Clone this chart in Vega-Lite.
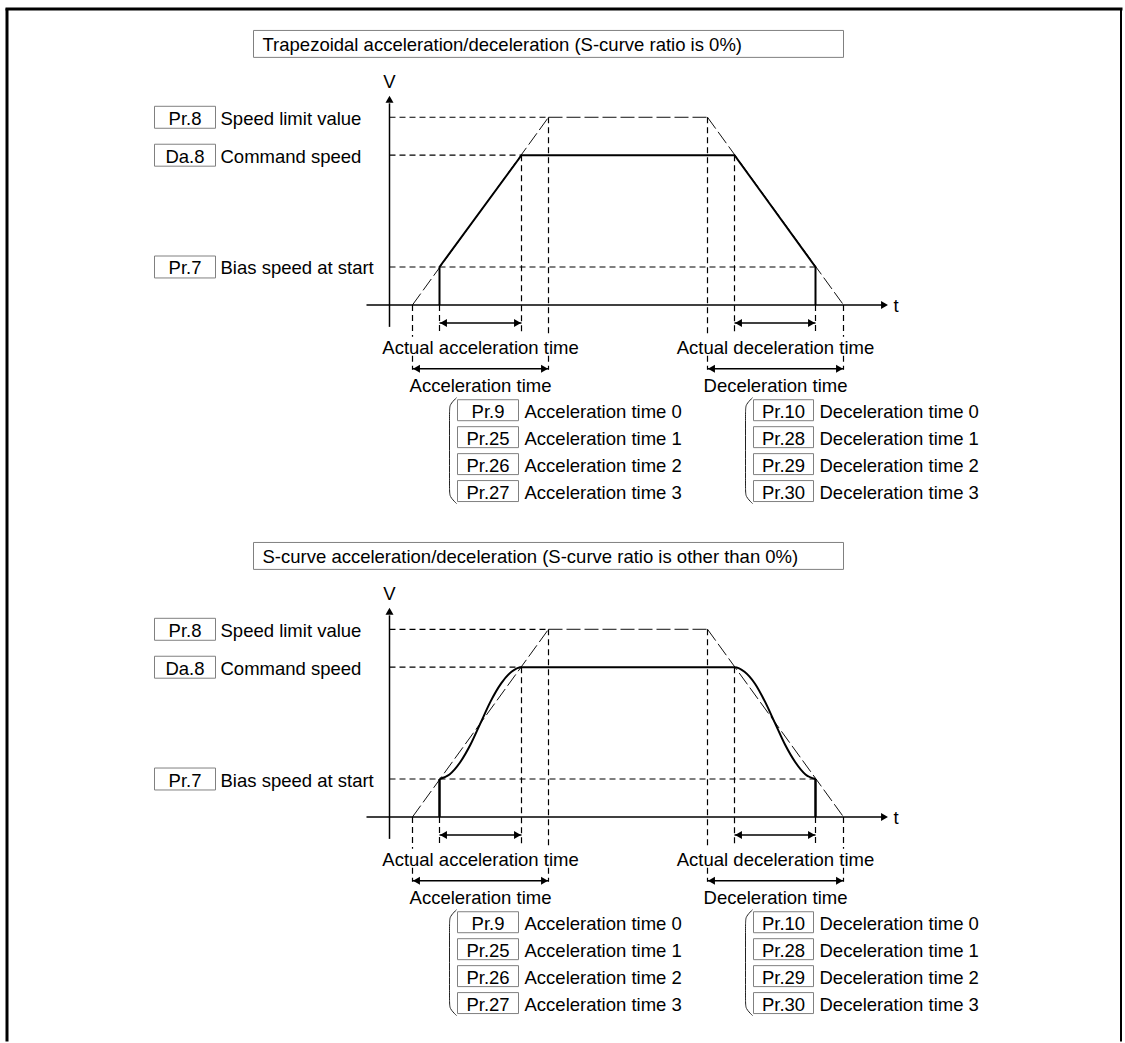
{
  "$schema": "https://vega.github.io/schema/vega-lite/v6.json",
  "width": 1125,
  "height": 1043,
  "autosize": {"type": "fit", "contains": "padding"},
  "padding": 0,
  "background": "white",
  "config": {"view": {"stroke": null}},
  "datasets": {
    "rules": [
      {"x": 6.5, "y": 8, "x2": 6.5, "y2": 1043, "k": "frame"},
      {"x": 5, "y": 8.5, "x2": 1122, "y2": 8.5, "k": "frame"},
      {"x": 1120.5, "y": 8, "x2": 1120.5, "y2": 1043, "k": "frame2"},

      {"x": 389, "y": 117, "x2": 548, "y2": 117, "k": "dash"},
      {"x": 389, "y": 155, "x2": 521, "y2": 155, "k": "dash"},
      {"x": 389, "y": 267, "x2": 815, "y2": 267, "k": "dash"},
      {"x": 521, "y": 155, "x2": 521, "y2": 333, "k": "dash"},
      {"x": 548, "y": 117, "x2": 548, "y2": 337, "k": "dash"},
      {"x": 548, "y": 356, "x2": 548, "y2": 370, "k": "dash"},
      {"x": 707, "y": 117, "x2": 707, "y2": 337, "k": "dash"},
      {"x": 707, "y": 356, "x2": 707, "y2": 370, "k": "dash"},
      {"x": 734, "y": 155, "x2": 734, "y2": 333, "k": "dash"},
      {"x": 412, "y": 305, "x2": 412, "y2": 337, "k": "dash"},
      {"x": 412, "y": 356, "x2": 412, "y2": 370, "k": "dash"},
      {"x": 843, "y": 305, "x2": 843, "y2": 337, "k": "dash"},
      {"x": 843, "y": 356, "x2": 843, "y2": 370, "k": "dash"},
      {"x": 439, "y": 305, "x2": 439, "y2": 333, "k": "dash"},
      {"x": 815, "y": 305, "x2": 815, "y2": 333, "k": "dash"},
      {"x": 412, "y": 305, "x2": 548, "y2": 117, "k": "chain"},
      {"x": 548, "y": 117, "x2": 707, "y2": 117, "k": "chain"},
      {"x": 707, "y": 117, "x2": 843, "y2": 305, "k": "chain"},
      {"x": 389, "y": 103, "x2": 389, "y2": 327, "k": "axis"},
      {"x": 366, "y": 305, "x2": 882, "y2": 305, "k": "axis"},
      {"x": 439, "y": 323, "x2": 521, "y2": 323, "k": "dim"},
      {"x": 412, "y": 369, "x2": 548, "y2": 369, "k": "dim"},
      {"x": 734, "y": 323, "x2": 815, "y2": 323, "k": "dim"},
      {"x": 707, "y": 369, "x2": 843, "y2": 369, "k": "dim"},

      {"x": 389, "y": 630, "x2": 548, "y2": 630, "k": "dash"},
      {"x": 389, "y": 668, "x2": 521, "y2": 668, "k": "dash"},
      {"x": 389, "y": 780, "x2": 815, "y2": 780, "k": "dash"},
      {"x": 521, "y": 668, "x2": 521, "y2": 846, "k": "dash"},
      {"x": 548, "y": 630, "x2": 548, "y2": 850, "k": "dash"},
      {"x": 548, "y": 869, "x2": 548, "y2": 883, "k": "dash"},
      {"x": 707, "y": 630, "x2": 707, "y2": 850, "k": "dash"},
      {"x": 707, "y": 869, "x2": 707, "y2": 883, "k": "dash"},
      {"x": 734, "y": 668, "x2": 734, "y2": 846, "k": "dash"},
      {"x": 412, "y": 818, "x2": 412, "y2": 850, "k": "dash"},
      {"x": 412, "y": 869, "x2": 412, "y2": 883, "k": "dash"},
      {"x": 843, "y": 818, "x2": 843, "y2": 850, "k": "dash"},
      {"x": 843, "y": 869, "x2": 843, "y2": 883, "k": "dash"},
      {"x": 439, "y": 818, "x2": 439, "y2": 846, "k": "dash"},
      {"x": 815, "y": 818, "x2": 815, "y2": 846, "k": "dash"},
      {"x": 412, "y": 818, "x2": 548, "y2": 630, "k": "chain"},
      {"x": 548, "y": 630, "x2": 707, "y2": 630, "k": "chain"},
      {"x": 707, "y": 630, "x2": 843, "y2": 818, "k": "chain"},
      {"x": 389, "y": 616, "x2": 389, "y2": 840, "k": "axis"},
      {"x": 366, "y": 818, "x2": 882, "y2": 818, "k": "axis"},
      {"x": 439, "y": 836, "x2": 521, "y2": 836, "k": "dim"},
      {"x": 412, "y": 882, "x2": 548, "y2": 882, "k": "dim"},
      {"x": 734, "y": 836, "x2": 815, "y2": 836, "k": "dim"},
      {"x": 707, "y": 882, "x2": 843, "y2": 882, "k": "dim"},
      {"x": 439, "y": 780, "x2": 439, "y2": 818, "k": "profile"},
      {"x": 815, "y": 780, "x2": 815, "y2": 818, "k": "profile"}
    ],
    "lines": [
      {"g": "p1", "i": 1, "x": 439, "y": 305},
      {"g": "p1", "i": 2, "x": 439, "y": 267},
      {"g": "p1", "i": 3, "x": 521, "y": 155},
      {"g": "p1", "i": 4, "x": 734, "y": 155},
      {"g": "p1", "i": 5, "x": 815, "y": 267},
      {"g": "p1", "i": 6, "x": 815, "y": 305},

      {"g": "s1", "i": 1, "x": 439, "y": 780},
      {"g": "s1", "i": 2, "x": 449, "y": 775.5},
      {"g": "s1", "i": 3, "x": 459.5, "y": 763.5},
      {"g": "s1", "i": 4, "x": 470, "y": 745.5},
      {"g": "s1", "i": 5, "x": 480, "y": 724},
      {"g": "s1", "i": 6, "x": 490, "y": 702.5},
      {"g": "s1", "i": 7, "x": 500.5, "y": 684.5},
      {"g": "s1", "i": 8, "x": 511, "y": 672.5},
      {"g": "s1", "i": 9, "x": 521, "y": 668},
      {"g": "s1", "i": 10, "x": 734, "y": 668},
      {"g": "s1", "i": 11, "x": 744, "y": 672.5},
      {"g": "s1", "i": 12, "x": 754.5, "y": 684.5},
      {"g": "s1", "i": 13, "x": 764.5, "y": 702.5},
      {"g": "s1", "i": 14, "x": 774.5, "y": 724},
      {"g": "s1", "i": 15, "x": 784.5, "y": 745.5},
      {"g": "s1", "i": 16, "x": 795, "y": 763.5},
      {"g": "s1", "i": 17, "x": 805, "y": 775.5},
      {"g": "s1", "i": 18, "x": 815, "y": 780},

      {"g": "b1", "i": 1, "x": 456, "y": 398},
      {"g": "b1", "i": 2, "x": 449, "y": 405},
      {"g": "b1", "i": 3, "x": 449, "y": 411},
      {"g": "b1", "i": 4, "x": 449, "y": 491},
      {"g": "b1", "i": 5, "x": 449, "y": 497},
      {"g": "b1", "i": 6, "x": 456, "y": 504},
      {"g": "b2", "i": 1, "x": 752, "y": 398},
      {"g": "b2", "i": 2, "x": 745, "y": 405},
      {"g": "b2", "i": 3, "x": 745, "y": 411},
      {"g": "b2", "i": 4, "x": 745, "y": 491},
      {"g": "b2", "i": 5, "x": 745, "y": 497},
      {"g": "b2", "i": 6, "x": 752, "y": 504},
      {"g": "b3", "i": 1, "x": 456, "y": 911},
      {"g": "b3", "i": 2, "x": 449, "y": 918},
      {"g": "b3", "i": 3, "x": 449, "y": 924},
      {"g": "b3", "i": 4, "x": 449, "y": 1004},
      {"g": "b3", "i": 5, "x": 449, "y": 1010},
      {"g": "b3", "i": 6, "x": 456, "y": 1017},
      {"g": "b4", "i": 1, "x": 752, "y": 911},
      {"g": "b4", "i": 2, "x": 745, "y": 918},
      {"g": "b4", "i": 3, "x": 745, "y": 924},
      {"g": "b4", "i": 4, "x": 745, "y": 1004},
      {"g": "b4", "i": 5, "x": 745, "y": 1010},
      {"g": "b4", "i": 6, "x": 752, "y": 1017}
    ],
    "boxes": [
      {"x": 253, "x2": 843, "y": 30, "y2": 57},
      {"x": 154, "x2": 215, "y": 106, "y2": 128},
      {"x": 154, "x2": 215, "y": 144, "y2": 166},
      {"x": 154, "x2": 215, "y": 256, "y2": 278},
      {"x": 457, "x2": 518, "y": 400, "y2": 421},
      {"x": 457, "x2": 518, "y": 427, "y2": 448},
      {"x": 457, "x2": 518, "y": 454, "y2": 475},
      {"x": 457, "x2": 518, "y": 481, "y2": 502},
      {"x": 753, "x2": 813, "y": 400, "y2": 421},
      {"x": 753, "x2": 813, "y": 427, "y2": 448},
      {"x": 753, "x2": 813, "y": 454, "y2": 475},
      {"x": 753, "x2": 813, "y": 481, "y2": 502},
      {"x": 253, "x2": 843, "y": 543, "y2": 570},
      {"x": 154, "x2": 215, "y": 619, "y2": 641},
      {"x": 154, "x2": 215, "y": 657, "y2": 679},
      {"x": 154, "x2": 215, "y": 769, "y2": 791},
      {"x": 457, "x2": 518, "y": 913, "y2": 934},
      {"x": 457, "x2": 518, "y": 940, "y2": 961},
      {"x": 457, "x2": 518, "y": 967, "y2": 988},
      {"x": 457, "x2": 518, "y": 994, "y2": 1015},
      {"x": 753, "x2": 813, "y": 913, "y2": 934},
      {"x": 753, "x2": 813, "y": 940, "y2": 961},
      {"x": 753, "x2": 813, "y": 967, "y2": 988},
      {"x": 753, "x2": 813, "y": 994, "y2": 1015}
    ],
    "arrows": [
      {"x": 389, "y": 99, "d": "up"},
      {"x": 884, "y": 305, "d": "right"},
      {"x": 443, "y": 323, "d": "left"},
      {"x": 517, "y": 323, "d": "right"},
      {"x": 416, "y": 369, "d": "left"},
      {"x": 544, "y": 369, "d": "right"},
      {"x": 738, "y": 323, "d": "left"},
      {"x": 811, "y": 323, "d": "right"},
      {"x": 711, "y": 369, "d": "left"},
      {"x": 839, "y": 369, "d": "right"},
      {"x": 389, "y": 612, "d": "up"},
      {"x": 884, "y": 818, "d": "right"},
      {"x": 443, "y": 836, "d": "left"},
      {"x": 517, "y": 836, "d": "right"},
      {"x": 416, "y": 882, "d": "left"},
      {"x": 544, "y": 882, "d": "right"},
      {"x": 738, "y": 836, "d": "left"},
      {"x": 811, "y": 836, "d": "right"},
      {"x": 711, "y": 882, "d": "left"},
      {"x": 839, "y": 882, "d": "right"}
    ],
    "texts": [
      {"x": 262, "y": 43.5, "t": "Trapezoidal acceleration/deceleration (S-curve ratio is 0%)", "r": "l"},
      {"x": 389, "y": 80, "t": "V", "r": "c"},
      {"x": 893, "y": 305, "t": "t", "r": "l"},
      {"x": 184.5, "y": 117, "t": "Pr.8", "r": "c"},
      {"x": 220, "y": 117, "t": "Speed limit value", "r": "l"},
      {"x": 184.5, "y": 155, "t": "Da.8", "r": "c"},
      {"x": 220, "y": 155, "t": "Command speed", "r": "l"},
      {"x": 184.5, "y": 267, "t": "Pr.7", "r": "c"},
      {"x": 220, "y": 267, "t": "Bias speed at start", "r": "l"},
      {"x": 480, "y": 347, "t": "Actual acceleration time", "r": "c"},
      {"x": 480, "y": 385, "t": "Acceleration time", "r": "c"},
      {"x": 775, "y": 347, "t": "Actual deceleration time", "r": "c"},
      {"x": 775, "y": 385, "t": "Deceleration time", "r": "c"},
      {"x": 487.5, "y": 410.5, "t": "Pr.9", "r": "c"},
      {"x": 487.5, "y": 437.5, "t": "Pr.25", "r": "c"},
      {"x": 487.5, "y": 464.5, "t": "Pr.26", "r": "c"},
      {"x": 487.5, "y": 491.5, "t": "Pr.27", "r": "c"},
      {"x": 524, "y": 410.5, "t": "Acceleration time 0", "r": "l"},
      {"x": 524, "y": 437.5, "t": "Acceleration time 1", "r": "l"},
      {"x": 524, "y": 464.5, "t": "Acceleration time 2", "r": "l"},
      {"x": 524, "y": 491.5, "t": "Acceleration time 3", "r": "l"},
      {"x": 783, "y": 410.5, "t": "Pr.10", "r": "c"},
      {"x": 783, "y": 437.5, "t": "Pr.28", "r": "c"},
      {"x": 783, "y": 464.5, "t": "Pr.29", "r": "c"},
      {"x": 783, "y": 491.5, "t": "Pr.30", "r": "c"},
      {"x": 819, "y": 410.5, "t": "Deceleration time 0", "r": "l"},
      {"x": 819, "y": 437.5, "t": "Deceleration time 1", "r": "l"},
      {"x": 819, "y": 464.5, "t": "Deceleration time 2", "r": "l"},
      {"x": 819, "y": 491.5, "t": "Deceleration time 3", "r": "l"},

      {"x": 262, "y": 556.5, "t": "S-curve acceleration/deceleration (S-curve ratio is other than 0%)", "r": "l"},
      {"x": 389, "y": 593, "t": "V", "r": "c"},
      {"x": 893, "y": 818, "t": "t", "r": "l"},
      {"x": 184.5, "y": 630, "t": "Pr.8", "r": "c"},
      {"x": 220, "y": 630, "t": "Speed limit value", "r": "l"},
      {"x": 184.5, "y": 668, "t": "Da.8", "r": "c"},
      {"x": 220, "y": 668, "t": "Command speed", "r": "l"},
      {"x": 184.5, "y": 780, "t": "Pr.7", "r": "c"},
      {"x": 220, "y": 780, "t": "Bias speed at start", "r": "l"},
      {"x": 480, "y": 860, "t": "Actual acceleration time", "r": "c"},
      {"x": 480, "y": 898, "t": "Acceleration time", "r": "c"},
      {"x": 775, "y": 860, "t": "Actual deceleration time", "r": "c"},
      {"x": 775, "y": 898, "t": "Deceleration time", "r": "c"},
      {"x": 487.5, "y": 923.5, "t": "Pr.9", "r": "c"},
      {"x": 487.5, "y": 950.5, "t": "Pr.25", "r": "c"},
      {"x": 487.5, "y": 977.5, "t": "Pr.26", "r": "c"},
      {"x": 487.5, "y": 1004.5, "t": "Pr.27", "r": "c"},
      {"x": 524, "y": 923.5, "t": "Acceleration time 0", "r": "l"},
      {"x": 524, "y": 950.5, "t": "Acceleration time 1", "r": "l"},
      {"x": 524, "y": 977.5, "t": "Acceleration time 2", "r": "l"},
      {"x": 524, "y": 1004.5, "t": "Acceleration time 3", "r": "l"},
      {"x": 783, "y": 923.5, "t": "Pr.10", "r": "c"},
      {"x": 783, "y": 950.5, "t": "Pr.28", "r": "c"},
      {"x": 783, "y": 977.5, "t": "Pr.29", "r": "c"},
      {"x": 783, "y": 1004.5, "t": "Pr.30", "r": "c"},
      {"x": 819, "y": 923.5, "t": "Deceleration time 0", "r": "l"},
      {"x": 819, "y": 950.5, "t": "Deceleration time 1", "r": "l"},
      {"x": 819, "y": 977.5, "t": "Deceleration time 2", "r": "l"},
      {"x": 819, "y": 1004.5, "t": "Deceleration time 3", "r": "l"}
    ]
  },
  "layer": [
    {
      "data": {"name": "rules"},
      "transform": [{"filter": "datum.k == 'dash'"}],
      "mark": {"type": "rule", "color": "black", "strokeWidth": 1.2, "strokeDash": [6, 4]},
      "encoding": {
        "x": {"field": "x", "type": "quantitative", "scale": {"domain": [-0.5, 1124.5], "nice": false, "zero": false}, "axis": null},
        "y": {"field": "y", "type": "quantitative", "scale": {"domain": [-0.5, 1042.5], "nice": false, "zero": false, "reverse": true}, "axis": null},
        "x2": {"field": "x2"},
        "y2": {"field": "y2"}
      }
    },
    {
      "data": {"name": "rules"},
      "transform": [{"filter": "datum.k == 'chain'"}],
      "mark": {"type": "rule", "color": "#111111", "strokeWidth": 1, "strokeDash": [14, 4]},
      "encoding": {
        "x": {"field": "x", "type": "quantitative", "scale": {"domain": [-0.5, 1124.5], "nice": false, "zero": false}, "axis": null},
        "y": {"field": "y", "type": "quantitative", "scale": {"domain": [-0.5, 1042.5], "nice": false, "zero": false, "reverse": true}, "axis": null},
        "x2": {"field": "x2"},
        "y2": {"field": "y2"}
      }
    },
    {
      "data": {"name": "rules"},
      "transform": [{"filter": "datum.k == 'axis' || datum.k == 'dim'"}],
      "mark": {"type": "rule", "color": "black", "strokeWidth": 1.5},
      "encoding": {
        "x": {"field": "x", "type": "quantitative", "scale": {"domain": [-0.5, 1124.5], "nice": false, "zero": false}, "axis": null},
        "y": {"field": "y", "type": "quantitative", "scale": {"domain": [-0.5, 1042.5], "nice": false, "zero": false, "reverse": true}, "axis": null},
        "x2": {"field": "x2"},
        "y2": {"field": "y2"}
      }
    },
    {
      "data": {"name": "rules"},
      "transform": [{"filter": "datum.k == 'frame'"}],
      "mark": {"type": "rule", "color": "black", "strokeWidth": 3},
      "encoding": {
        "x": {"field": "x", "type": "quantitative", "scale": {"domain": [-0.5, 1124.5], "nice": false, "zero": false}, "axis": null},
        "y": {"field": "y", "type": "quantitative", "scale": {"domain": [-0.5, 1042.5], "nice": false, "zero": false, "reverse": true}, "axis": null},
        "x2": {"field": "x2"},
        "y2": {"field": "y2"}
      }
    },
    {
      "data": {"name": "rules"},
      "transform": [{"filter": "datum.k == 'frame2'"}],
      "mark": {"type": "rule", "color": "black", "strokeWidth": 2},
      "encoding": {
        "x": {"field": "x", "type": "quantitative", "scale": {"domain": [-0.5, 1124.5], "nice": false, "zero": false}, "axis": null},
        "y": {"field": "y", "type": "quantitative", "scale": {"domain": [-0.5, 1042.5], "nice": false, "zero": false, "reverse": true}, "axis": null},
        "x2": {"field": "x2"},
        "y2": {"field": "y2"}
      }
    },
    {
      "data": {"name": "rules"},
      "transform": [{"filter": "datum.k == 'profile'"}],
      "mark": {"type": "rule", "color": "black", "strokeWidth": 2.5},
      "encoding": {
        "x": {"field": "x", "type": "quantitative", "scale": {"domain": [-0.5, 1124.5], "nice": false, "zero": false}, "axis": null},
        "y": {"field": "y", "type": "quantitative", "scale": {"domain": [-0.5, 1042.5], "nice": false, "zero": false, "reverse": true}, "axis": null},
        "x2": {"field": "x2"},
        "y2": {"field": "y2"}
      }
    },
    {
      "data": {"name": "lines"},
      "transform": [{"filter": "datum.g == 'p1'"}],
      "mark": {"type": "line", "color": "black", "strokeWidth": 2, "interpolate": "linear", "strokeJoin": "miter"},
      "encoding": {
        "x": {"field": "x", "type": "quantitative", "scale": {"domain": [-0.5, 1124.5], "nice": false, "zero": false}, "axis": null},
        "y": {"field": "y", "type": "quantitative", "scale": {"domain": [-0.5, 1042.5], "nice": false, "zero": false, "reverse": true}, "axis": null},
        "order": {"field": "i", "type": "quantitative"},
        "detail": {"field": "g", "type": "nominal"}
      }
    },
    {
      "data": {"name": "lines"},
      "transform": [{"filter": "datum.g == 's1'"}],
      "mark": {"type": "line", "color": "black", "strokeWidth": 2, "interpolate": "monotone"},
      "encoding": {
        "x": {"field": "x", "type": "quantitative", "scale": {"domain": [-0.5, 1124.5], "nice": false, "zero": false}, "axis": null},
        "y": {"field": "y", "type": "quantitative", "scale": {"domain": [-0.5, 1042.5], "nice": false, "zero": false, "reverse": true}, "axis": null},
        "order": {"field": "i", "type": "quantitative"},
        "detail": {"field": "g", "type": "nominal"}
      }
    },
    {
      "data": {"name": "lines"},
      "transform": [{"filter": "datum.g == 'b1' || datum.g == 'b2' || datum.g == 'b3' || datum.g == 'b4'"}],
      "mark": {"type": "line", "color": "#222222", "strokeWidth": 1, "interpolate": "basis"},
      "encoding": {
        "x": {"field": "x", "type": "quantitative", "scale": {"domain": [-0.5, 1124.5], "nice": false, "zero": false}, "axis": null},
        "y": {"field": "y", "type": "quantitative", "scale": {"domain": [-0.5, 1042.5], "nice": false, "zero": false, "reverse": true}, "axis": null},
        "order": {"field": "i", "type": "quantitative"},
        "detail": {"field": "g", "type": "nominal"}
      }
    },
    {
      "data": {"name": "boxes"},
      "mark": {"type": "rect", "fill": "white", "stroke": "#808080", "strokeWidth": 1},
      "encoding": {
        "x": {"field": "x", "type": "quantitative", "scale": {"domain": [-0.5, 1124.5], "nice": false, "zero": false}, "axis": null},
        "y": {"field": "y", "type": "quantitative", "scale": {"domain": [-0.5, 1042.5], "nice": false, "zero": false, "reverse": true}, "axis": null},
        "x2": {"field": "x2"},
        "y2": {"field": "y2"}
      }
    },
    {
      "data": {"name": "arrows"},
      "mark": {"type": "point", "filled": true, "color": "black", "size": 64, "opacity": 1},
      "encoding": {
        "x": {"field": "x", "type": "quantitative", "scale": {"domain": [-0.5, 1124.5], "nice": false, "zero": false}, "axis": null},
        "y": {"field": "y", "type": "quantitative", "scale": {"domain": [-0.5, 1042.5], "nice": false, "zero": false, "reverse": true}, "axis": null},
        "shape": {"field": "d", "type": "nominal", "scale": {"domain": ["up", "right", "left"], "range": ["triangle-up", "triangle-right", "triangle-left"]}, "legend": null}
      }
    },
    {
      "data": {"name": "texts"},
      "transform": [{"filter": "datum.r == 'l'"}],
      "mark": {"type": "text", "align": "left", "baseline": "middle", "dy": 1.5, "font": "Liberation Sans", "fontSize": 18.5, "color": "black"},
      "encoding": {
        "x": {"field": "x", "type": "quantitative", "scale": {"domain": [-0.5, 1124.5], "nice": false, "zero": false}, "axis": null},
        "y": {"field": "y", "type": "quantitative", "scale": {"domain": [-0.5, 1042.5], "nice": false, "zero": false, "reverse": true}, "axis": null},
        "text": {"field": "t", "type": "nominal"}
      }
    },
    {
      "data": {"name": "texts"},
      "transform": [{"filter": "datum.r == 'c'"}],
      "mark": {"type": "text", "align": "center", "baseline": "middle", "dy": 1.5, "font": "Liberation Sans", "fontSize": 18.5, "color": "black"},
      "encoding": {
        "x": {"field": "x", "type": "quantitative", "scale": {"domain": [-0.5, 1124.5], "nice": false, "zero": false}, "axis": null},
        "y": {"field": "y", "type": "quantitative", "scale": {"domain": [-0.5, 1042.5], "nice": false, "zero": false, "reverse": true}, "axis": null},
        "text": {"field": "t", "type": "nominal"}
      }
    }
  ]
}
